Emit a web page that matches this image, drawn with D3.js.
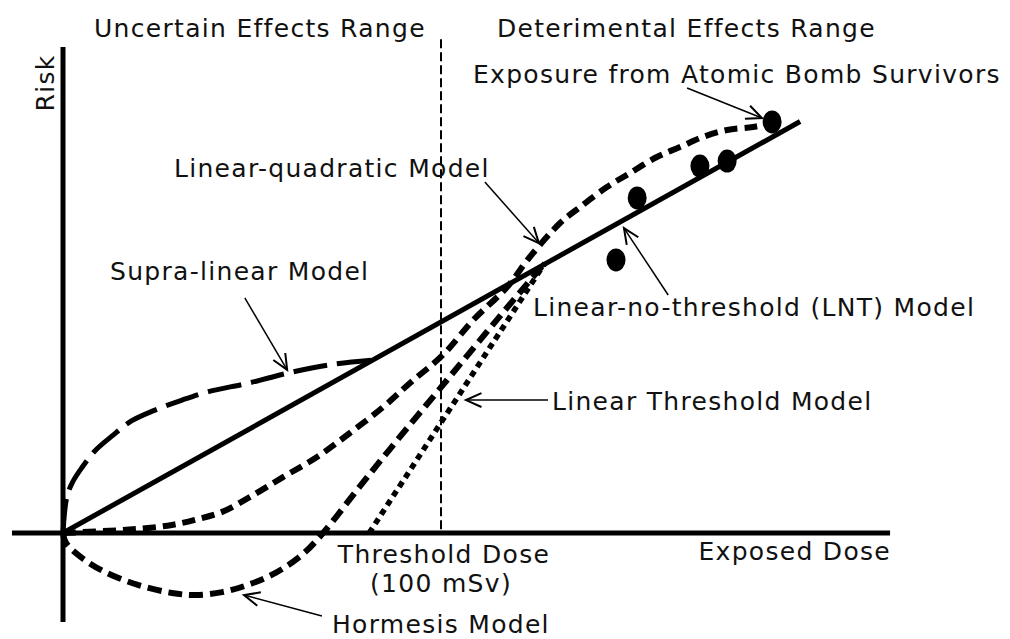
<!DOCTYPE html>
<html lang="en">
<head>
    <meta charset="UTF-8">
    <title>Dose-Response Models</title>
    <script src="https://d3js.org/d3.v7.min.js"></script>
    <style>
        body { margin: 0; background: #fff; }
        text { font-family: "DejaVu Sans", Verdana, sans-serif; fill: #111; }
    </style>
</head>
<body>
    <script>
        let width = 1010;
        let height = 639;

        // dose (mSv-ish, threshold at 100) and relative risk
        const lntDose = [0, 195];
        const lntRisk = [0, 1.95];

        const supraDose = [0, 1, 2.5, 5, 8.5, 13, 18, 24, 31.5, 38.5, 49, 60, 71.5, 82];
        const supraRisk = [0, 0.17, 0.24, 0.31, 0.39, 0.46, 0.53, 0.58, 0.63, 0.67, 0.71, 0.76, 0.80, 0.82];

        const lqDose = [0, 15.6, 22.5, 28.8, 34.9, 42.1, 49.5, 58.2, 67.2, 75.9, 84.7, 91.8, 100.5, 108.5, 117.5, 123.5, 131.5, 136.8, 143.9, 150, 157.1, 163.2, 169.3, 175.7, 182.5, 186.5];
        const lqRisk = [0, 0.014, 0.024, 0.038, 0.062, 0.10, 0.171, 0.265, 0.36, 0.474, 0.597, 0.711, 0.844, 1.009, 1.166, 1.308, 1.469, 1.545, 1.64, 1.706, 1.782, 1.829, 1.877, 1.91, 1.924, 1.938];

        const hormDose = [0, 0.8, 5, 11.1, 19.8, 28.8, 34.9, 42.1, 48.9, 56.1, 63.2, 68.8, 77.8, 86.5, 101.6, 115.6, 127.5];
        const hormRisk = [0, -0.047, -0.118, -0.185, -0.246, -0.284, -0.294, -0.28, -0.246, -0.19, -0.104, 0, 0.204, 0.398, 0.725, 1.028, 1.28];

        const ltDose = [81, 127.5];
        const ltRisk = [0, 1.28];

        const bombDose = [187.6, 175.7, 168.5, 151.9, 146.3];
        const bombRisk = [1.948, 1.763, 1.739, 1.588, 1.294];

        const thresholdDose = 100;

        let svg = d3.select("body")
            .append("svg")
            .attr("width", width)
            .attr("height", height);

        let x = d3.scaleLinear().domain([0, 100]).range([63, 441]);
        let y = d3.scaleLinear().domain([0, 1]).range([533, 322]);

        let line = d3.line()
            .x(d => x(d[0]))
            .y(d => y(d[1]))
            .curve(d3.curveCatmullRom.alpha(0.5));

        function zip(a, b) {
            return a.map((v, i) => [v, b[i]]);
        }

        // threshold line
        svg.append("line")
            .attr("x1", x(thresholdDose)).attr("x2", x(thresholdDose))
            .attr("y1", y(2.34)).attr("y2", y(0))
            .style("stroke", "#000")
            .style("stroke-width", 2)
            .style("stroke-dasharray", "9,4");

        // axes
        svg.append("line")
            .attr("x1", x(0)).attr("x2", x(0))
            .attr("y1", y(2.303)).attr("y2", y(-0.422))
            .style("stroke", "#000").style("stroke-width", 5);
        svg.append("line")
            .attr("x1", x(-13.5)).attr("x2", x(218.8))
            .attr("y1", y(0)).attr("y2", y(0))
            .style("stroke", "#000").style("stroke-width", 5);

        let curves = [
            { d: zip(supraDose, supraRisk), dash: "34,10", w: 5 },
            { d: zip(lqDose, lqRisk), dash: "13,7", w: 6 },
            { d: zip(hormDose, hormRisk), dash: "14,7", w: 6 },
            { d: zip(ltDose, ltRisk), dash: "6,5", w: 5.5 },
            { d: zip(lntDose, lntRisk), dash: null, w: 5 }
        ];

        curves.forEach(c => {
            svg.append("path")
                .datum(c.d)
                .attr("d", line)
                .style("fill", "none")
                .style("stroke", "#000")
                .style("stroke-width", c.w)
                .style("stroke-dasharray", c.dash);
        });

        // atomic bomb survivor points
        svg.selectAll("ellipse")
            .data(zip(bombDose, bombRisk))
            .enter()
            .append("ellipse")
            .attr("cx", d => x(d[0]))
            .attr("cy", d => y(d[1]))
            .attr("rx", 9.5)
            .attr("ry", 11.5)
            .style("fill", "#000");

        // pointer arrows (dose, risk) -> (dose, risk)
        let arrows = [
            [48.1, 1.114, 59.3, 0.773],
            [111.6, 1.664, 125.9, 1.374],
            [165.1, 2.109, 184.9, 1.967],
            [160.1, 1.128, 148.4, 1.445],
            [128.3, 0.63, 106.6, 0.63],
            [68.5, -0.393, 47.9, -0.294]
        ];

        arrows.forEach(a => {
            let x1 = x(a[0]), y1 = y(a[1]), x2 = x(a[2]), y2 = y(a[3]);
            let ang = Math.atan2(y2 - y1, x2 - x1);
            let len = 17, spread = 0.42;
            svg.append("line")
                .attr("x1", x1).attr("y1", y1).attr("x2", x2).attr("y2", y2)
                .style("stroke", "#000").style("stroke-width", 1.5);
            svg.append("path")
                .attr("d", "M" + (x2 - len * Math.cos(ang - spread)) + "," + (y2 - len * Math.sin(ang - spread)) +
                    "L" + x2 + "," + y2 +
                    "L" + (x2 - len * Math.cos(ang + spread)) + "," + (y2 - len * Math.sin(ang + spread)))
                .style("fill", "none")
                .style("stroke", "#000")
                .style("stroke-width", 2);
        });

        // labels
        let fs = 25;
        let labels = [
            { t: "Uncertain Effects Range", px: 94, py: 37, a: "start" },
            { t: "Deterimental Effects Range", px: 497, py: 37, a: "start" },
            { t: "Exposure from Atomic Bomb Survivors", px: 473, py: 83, a: "start" },
            { t: "Linear-quadratic Model", px: 174, py: 177, a: "start" },
            { t: "Supra-linear Model", px: 110, py: 280, a: "start" },
            { t: "Linear-no-threshold (LNT) Model", px: 533, py: 316, a: "start" },
            { t: "Linear Threshold Model", px: 552, py: 410, a: "start" },
            { t: "Threshold Dose", px: 444, py: 563, a: "middle" },
            { t: "(100 mSv)", px: 441, py: 592, a: "middle" },
            { t: "Exposed Dose", px: 891, py: 560, a: "end" },
            { t: "Hormesis Model", px: 332, py: 633, a: "start" }
        ];

        svg.selectAll("text.lbl")
            .data(labels)
            .enter()
            .append("text")
            .attr("class", "lbl")
            .attr("x", d => d.px)
            .attr("y", d => d.py)
            .attr("text-anchor", d => d.a)
            .style("font-size", fs + "px")
            .style("letter-spacing", "1.3px")
            .text(d => d.t);

        svg.append("text")
            .attr("transform", "translate(54,83) rotate(-90)")
            .attr("text-anchor", "middle")
            .style("font-size", fs + "px")
            .style("letter-spacing", "1.3px")
            .text("Risk");
    </script>
</body>
</html>
